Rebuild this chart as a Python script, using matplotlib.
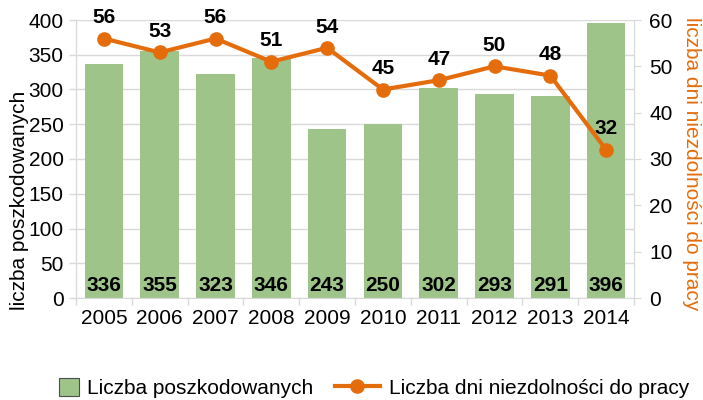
import matplotlib
matplotlib.use("Agg")
import matplotlib.pyplot as plt
from matplotlib.patches import Patch
import numpy as np

plt.rcParams['font.family'] = ['Liberation Sans', 'DejaVu Sans']

years = ['2005', '2006', '2007', '2008', '2009', '2010', '2011', '2012', '2013', '2014']
injured = [336, 355, 323, 346, 243, 250, 302, 293, 291, 396]
days = [56, 53, 56, 51, 54, 45, 47, 50, 48, 32]

bar_color = '#9EC48A'
line_color = '#E46C0A'
grid_color = '#D9D9D9'
FS = 15
W, H = 703, 400

fig = plt.figure(figsize=(W / 100, H / 100), dpi=100)
ax = fig.add_axes([76/W, 102/H, (634-76)/W, 278/H])
x = np.arange(len(years))
ax.bar(x, injured, width=0.69, color=bar_color, zorder=2)
ax.set_xlim(-0.5, len(years) - 0.5)
ax.set_ylim(0, 400)
ax.set_yticks(range(0, 401, 50))
ax.set_xticks(x)
ax.set_xticklabels(years)
ax.set_xticks(np.arange(-0.5, len(years), 1.0), minor=True)
ax.tick_params(axis='both', labelsize=FS, colors='black')
ax.tick_params(axis='y', color=grid_color, length=5, width=1, pad=4)
ax.tick_params(axis='x', which='major', length=0, pad=8)
ax.tick_params(axis='x', which='minor', length=5, color=grid_color, width=1)
ax.grid(axis='y', color=grid_color, lw=1, zorder=0)
ax.set_axisbelow(True)
ax.spines['top'].set_visible(False)
for s in ['left', 'right', 'bottom']:
    ax.spines[s].set_color(grid_color)
for xi, v in zip(x, injured):
    ax.text(xi, 10, str(v), ha='center', va='baseline', fontsize=FS, fontweight='bold', zorder=5)

ax2 = ax.twinx()
line, = ax2.plot(x, days, color=line_color, lw=3, marker='o', ms=9.5, zorder=4)
ax2.set_ylim(0, 60)
ax2.set_yticks(range(0, 61, 10))
ax2.tick_params(axis='y', labelsize=FS, color=grid_color, length=5, pad=6)
ax2.spines['top'].set_visible(False)
ax2.spines['bottom'].set_visible(False)
for s in ['left', 'right']:
    ax2.spines[s].set_color(grid_color)
for xi, v in zip(x, days):
    ax2.annotate(str(v), (xi, v), xytext=(0, 11), textcoords='offset points',
                 ha='center', va='baseline', fontsize=FS, fontweight='bold')

fig.text(20/W, 1 - 200/H, 'liczba poszkodowanych', rotation=90, ha='center', va='center', fontsize=FS)
fig.text(691/W, 1 - 164/H, 'liczba dni niezdolności do pracy', rotation=270, ha='center', va='center',
         fontsize=FS, color=line_color)

h1 = Patch(facecolor=bar_color, edgecolor='#4D4D4D', linewidth=0.8)
leg1 = fig.legend([h1], ['Liczba poszkodowanych'], loc='center left',
                  bbox_to_anchor=(59/W, 1 - 388/H), frameon=False, fontsize=FS,
                  handlelength=0.95, handleheight=1.0, handletextpad=0.4,
                  borderpad=0, borderaxespad=0)
leg2 = fig.legend([line], ['Liczba dni niezdolności do pracy'], loc='center left',
                  bbox_to_anchor=(335/W, 1 - 388/H), frameon=False, fontsize=FS,
                  handlelength=2.15, handletextpad=0.45, borderpad=0, borderaxespad=0)

fig.savefig('out.png', dpi=100)
